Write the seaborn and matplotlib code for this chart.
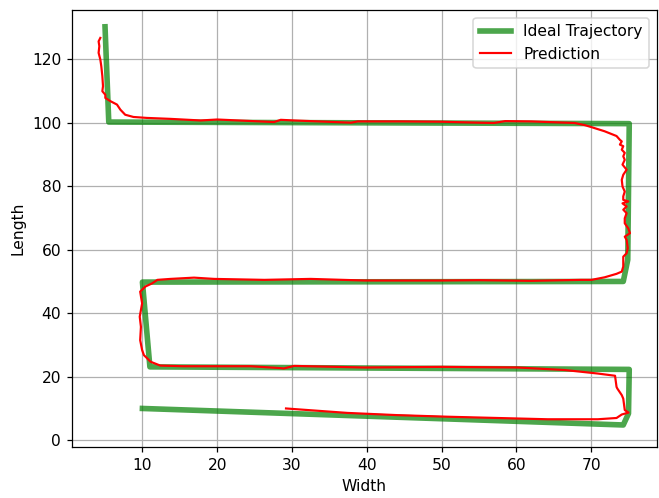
import matplotlib
matplotlib.use("Agg")
import matplotlib.pyplot as plt
import seaborn as sns
import pandas as pd

# Ideal trajectory vertices
ideal_x = [5.0, 5.5, 75.1, 74.9, 74.3, 10.0, 11.0, 75.1, 75.0, 74.3, 10.0]
ideal_y = [130.2, 100.2, 99.7, 56.8, 50.0, 49.8, 23.1, 22.3, 8.4, 4.8, 10.0]

# Predicted trajectory
pred_x = [4.37, 4.14, 4.24, 4.14, 4.37, 4.5, 4.64, 4.73, 4.64, 5.04, 5.04, 5.7, 6.6, 7.05, 7.7, 8.8, 10.6, 13.75,
          17.8, 20.0, 27.6, 28.5, 30.3, 37.9, 38.8, 44.6, 50.0, 55.0, 57.0, 58.5, 62.0, 67.8, 69.2,
          70.05, 71.8, 73.4, 73.85, 74.1, 73.85, 74.3, 74.1, 74.5, 74.3, 74.5, 74.2, 74.75, 74.3, 74.1, 74.2,
          74.5, 74.3, 74.3, 74.97, 74.2, 74.75, 74.3, 74.75, 74.5, 74.5, 74.97, 75.2, 74.5, 74.75, 74.9, 74.75,
          74.3, 74.3, 74.1, 73.4, 71.8, 70.05, 68.7,
          62.0, 55.0, 50.0, 43.2, 39.7, 32.5, 26.3, 19.6, 16.9, 13.75, 12.0, 11.3,
          10.4, 9.7, 9.96, 9.64, 9.8, 9.7, 9.96, 10.2, 11.1, 12.4, 15.5, 20.0, 24.5, 28.5, 28.9, 30.3,
          39.7, 50.0, 60.2, 66.5, 70.9, 73.2, 73.4, 73.5, 74.1, 74.3, 74.5, 75.0, 74.1, 73.4, 70.9,
          64.2, 57.5, 50.8, 44.1, 37.4, 29.2]
pred_y = [126.7, 125.6, 124.1, 122.0, 119.9, 117.8, 114.7, 111.5, 109.9, 108.8, 107.8, 106.8, 105.7, 104.1, 102.5, 101.8, 101.5, 101.2,
          100.7, 101.0, 100.2, 100.9, 100.7, 100.0, 100.4, 100.4, 100.3, 100.0, 99.9, 100.5, 100.4, 99.9, 99.2,
          98.6, 97.3, 95.8, 94.6, 94.1, 93.1, 92.6, 91.5, 90.5, 89.4, 88.3, 86.8, 85.2, 83.6, 82.0, 79.9,
          78.3, 76.8, 75.7, 75.2, 74.6, 73.6, 72.6, 71.5, 69.9, 68.3, 66.7, 65.2, 64.1, 63.1, 60.5, 58.9,
          57.8, 54.7, 53.1, 52.4, 51.3, 50.5, 50.5,
          50.2, 50.4, 50.3, 50.3, 50.3, 50.8, 50.5, 50.8, 51.2, 50.8, 50.5, 49.4,
          48.4, 46.8, 43.1, 38.9, 35.7, 31.5, 28.4, 26.8, 24.7, 23.5, 23.3, 23.3, 23.3, 22.7, 22.6, 23.4,
          22.9, 23.1, 22.9, 22.1, 21.0, 20.3, 16.8, 16.3, 14.2, 13.1, 9.5, 8.7, 8.1, 7.0, 6.6,
          6.6, 7.0, 7.4, 7.9, 8.6, 10.0]

ideal = pd.DataFrame({"Width": ideal_x, "Length": ideal_y})
pred = pd.DataFrame({"Width": pred_x, "Length": pred_y})

DPI = 112
fig = plt.figure(figsize=(659 / DPI, 498 / DPI), dpi=DPI)
ax = fig.add_axes([0.1093, 0.102, 0.887, 0.878])

sns.lineplot(data=ideal, x="Width", y="Length", sort=False, estimator=None,
             color="green", linewidth=3.6, alpha=0.7, label="Ideal Trajectory", ax=ax)
sns.lineplot(data=pred, x="Width", y="Length", sort=False, estimator=None,
             color="red", linewidth=1.4, label="Prediction", ax=ax)

ax.set_ylim(-2.2, 135.5)
ax.grid(True)
ax.set_xlabel("Width")
ax.set_ylabel("Length")
ax.legend(loc="upper right")

fig.savefig("out.png", dpi=DPI)
